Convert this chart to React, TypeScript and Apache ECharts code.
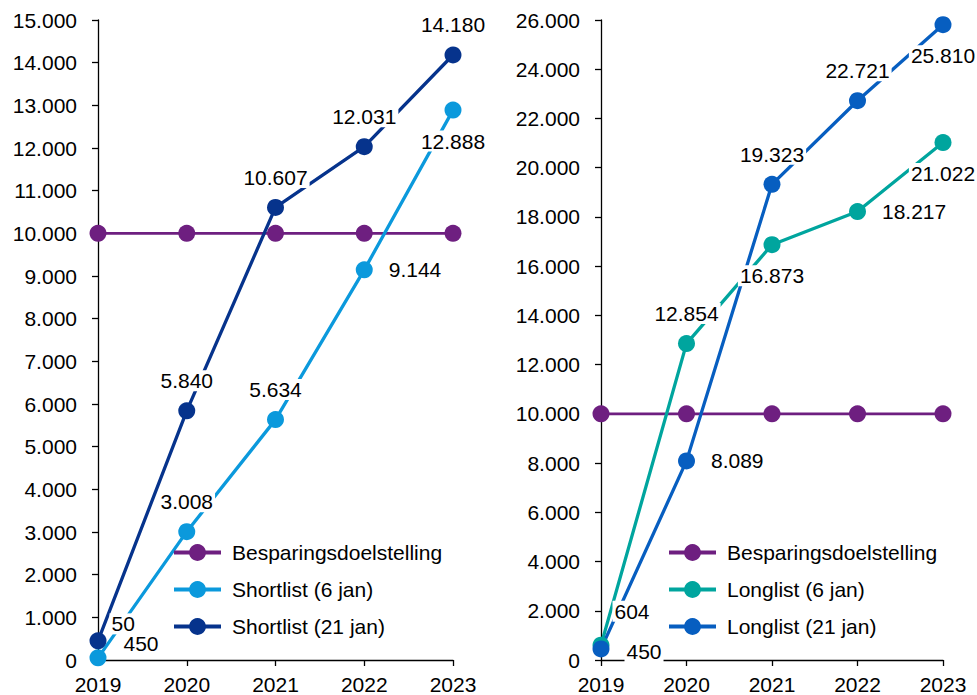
import React, { useEffect, useRef } from "react";
import * as echarts from "echarts";

// Years on the category axis
const years = ["2019", "2020", "2021", "2022", "2023"];

// Savings target and measured totals per list
const target = [10000, 10000, 10000, 10000, 10000];
const shortlist6 = [50, 3008, 5634, 9144, 12888];
const shortlist21 = [450, 5840, 10607, 12031, 14180];
const longlist6 = [604, 12854, 16873, 18217, 21022];
const longlist21 = [450, 8089, 19323, 22721, 25810];

// Value-axis ranges
const leftAxis = { min: 0, max: 15000, interval: 1000 };
const rightAxis = { min: 0, max: 26000, interval: 2000 };

// Where each value label sits relative to its point
type Place = "top" | "bottom" | "right" | "corner" | "low";
const shortlist6Places: Place[] = ["corner", "top", "top", "right", "bottom"];
const shortlist21Places: Place[] = ["low", "top", "top", "top", "top"];
const longlist6Places: Place[] = ["corner", "top", "bottom", "right", "bottom"];
const longlist21Places: Place[] = ["low", "right", "top", "top", "bottom"];

const COLORS = {
  target: "#6E1F80",
  short6: "#0B99DC",
  short21: "#06338C",
  long6: "#00A59E",
  long21: "#075EC0",
};

const FONT = "'Liberation Sans', Arial, sans-serif";
const FS = 21;

const fmt = (v: number) =>
  String(Math.round(v)).replace(/\B(?=(\d{3})+(?!\d))/g, ".");

const placeLabel = (p: Place) => {
  switch (p) {
    case "top":
      return { position: "top", distance: 11 };
    case "bottom":
      return { position: "bottom", distance: 12 };
    case "right":
      return { position: "right", distance: 14 };
    case "low":
      return { position: "right", distance: 15, offset: [0, 3] };
    case "corner":
      return { position: "right", distance: 3, offset: [0, -34] };
  }
};

const labelled = (values: number[], places: Place[]) =>
  values.map((v, i) => ({ value: v, label: placeLabel(places[i]) }));

const xAxisFor = (gridIndex: number) => ({
  type: "category",
  gridIndex,
  data: years,
  boundaryGap: false,
  axisLine: { lineStyle: { color: "#000", width: 1.3 } },
  axisTick: { alignWithLabel: true, length: 6, lineStyle: { color: "#000", width: 1.3 } },
  axisLabel: { color: "#000", fontSize: FS, fontFamily: FONT, margin: 14 },
  splitLine: { show: false },
});

const yAxisFor = (gridIndex: number, r: { min: number; max: number; interval: number }) => ({
  type: "value",
  gridIndex,
  min: r.min,
  max: r.max,
  interval: r.interval,
  axisLine: { show: true, lineStyle: { color: "#000", width: 1.3 } },
  axisTick: { show: true, length: 6, lineStyle: { color: "#000", width: 1.3 } },
  axisLabel: { color: "#000", fontSize: FS, fontFamily: FONT, margin: 21, formatter: (v: number) => fmt(v) },
  splitLine: { show: false },
});

const lineSeries = (
  name: string,
  data: any[],
  color: string,
  axisIndex: number,
  width: number,
  showLabels: boolean
) => ({
  name,
  type: "line",
  xAxisIndex: axisIndex,
  yAxisIndex: axisIndex,
  data,
  symbol: "circle",
  symbolSize: 17,
  showAllSymbol: true,
  itemStyle: { color },
  lineStyle: { color, width },
  emphasis: { disabled: true },
  label: {
    show: showLabels,
    color: "#000",
    fontSize: FS,
    fontFamily: FONT,
    backgroundColor: "#fff",
    padding: [0, 2],
    formatter: (p: any) => fmt(p.value),
  },
});

const legendFor = (left: number, names: string[]) => ({
  orient: "vertical",
  left,
  top: 537,
  itemWidth: 47,
  itemHeight: 21,
  itemGap: 16,
  data: names,
  lineStyle: { width: 4 },
  textStyle: { color: "#000", fontSize: FS, fontFamily: FONT, padding: [0, 0, 0, 6] },
});

export default function App() {
  const ref = useRef<HTMLDivElement>(null);

  useEffect(() => {
    if (!ref.current) return;
    const chart = echarts.init(ref.current, undefined, { renderer: "svg" });
    chart.setOption({
      animation: false,
      backgroundColor: "#fff",
      grid: [
        { left: 98, right: 524, top: 20, bottom: 33 },
        { left: 601, right: 34, top: 20, bottom: 33 },
      ],
      xAxis: [xAxisFor(0), xAxisFor(1)],
      yAxis: [yAxisFor(0, leftAxis), yAxisFor(1, rightAxis)],
      legend: [
        legendFor(167, ["Besparingsdoelstelling", "Shortlist (6 jan)", "Shortlist (21 jan)"]),
        legendFor(662, ["Besparingsdoelstelling", "Longlist (6 jan)", "Longlist (21 jan)"]),
      ],
      series: [
        lineSeries("Besparingsdoelstelling", target, COLORS.target, 0, 2.7, false),
        lineSeries("Shortlist (6 jan)", labelled(shortlist6, shortlist6Places), COLORS.short6, 0, 3.3, true),
        lineSeries("Shortlist (21 jan)", labelled(shortlist21, shortlist21Places), COLORS.short21, 0, 3.3, true),
        lineSeries("Besparingsdoelstelling", target, COLORS.target, 1, 2.7, false),
        lineSeries("Longlist (6 jan)", labelled(longlist6, longlist6Places), COLORS.long6, 1, 3.3, true),
        lineSeries("Longlist (21 jan)", labelled(longlist21, longlist21Places), COLORS.long21, 1, 3.3, true),
      ],
    });
    return () => chart.dispose();
  }, []);

  return (
    <div
      ref={ref}
      style={{ position: "fixed", left: 0, top: 0, width: 977, height: 695, background: "#fff" }}
    />
  );
}
